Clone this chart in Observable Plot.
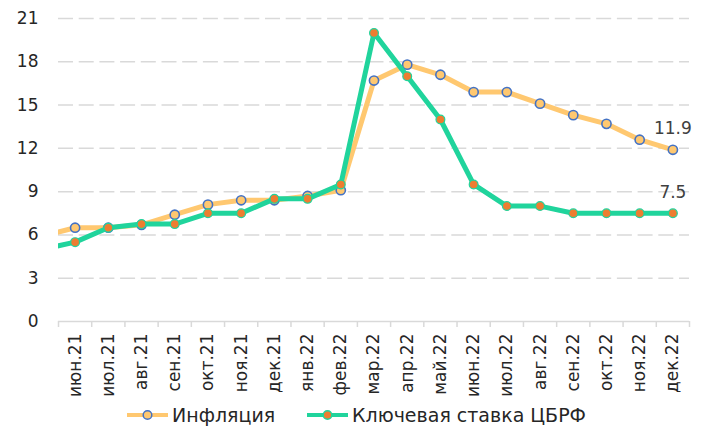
<!DOCTYPE html>
<html>
<head>
<meta charset="utf-8">
<script src="https://cdn.jsdelivr.net/npm/d3@7"></script>
<script src="https://cdn.jsdelivr.net/npm/@observablehq/plot@0.6"></script>
<style>
  html, body { margin: 0; padding: 0; background: #fff; }
  #chart { width: 705px; }
  .legend { position: relative; height: 29px; font-family: "DejaVu Sans", sans-serif; font-size: 19px; color: #262626; }
  .legend .item { position: absolute; top: 0; height: 29px; display: flex; align-items: center; }
  .legend svg { margin-right: 4px; }
</style>
</head>
<body>
<div id="chart"></div>
<script>
// Categories (months)
const months = ["июн.21","июл.21","авг.21","сен.21","окт.21","ноя.21","дек.21","янв.22","фев.22","мар.22","апр.22","май.22","июн.22","июл.22","авг.22","сен.22","окт.22","ноя.22","дек.22"];
// Lead-in month (partially visible at left edge, clipped)
const leadMonth = "май.21";
const leadInflation = 5.9;
const leadKeyRate = 5.0;
// Series
const inflation = [6.5,6.5,6.7,7.4,8.1,8.4,8.4,8.7,9.1,16.7,17.8,17.1,15.9,15.9,15.1,14.3,13.7,12.6,11.9];
const keyRate   = [5.5,6.5,6.75,6.75,7.5,7.5,8.5,8.5,9.5,20,17,14,9.5,8,8,7.5,7.5,7.5,7.5];
// Y tick labels
const yTicks = [0,3,6,9,12,15,18,21];
const seriesNames = ["Инфляция", "Ключевая ставка ЦБРФ"];

const cInfl = "#FFC870", cInflEdge = "#4472C4";
const cKey = "#20D49C", cKeyDot = "#ED7D31";

const inflData = [{i: -1, m: leadMonth, v: leadInflation}, ...inflation.map((v, i) => ({i, m: months[i], v}))];
const keyData  = [{i: -1, m: leadMonth, v: leadKeyRate}, ...keyRate.map((v, i) => ({i, m: months[i], v}))];
const idx = months.map((_, i) => i);
const bounds = d3.range(months.length + 1).map(i => i - 0.5);

const plot = Plot.plot({
  width: 705,
  height: 400,
  marginLeft: 58,
  marginRight: 16,
  marginTop: 18,
  marginBottom: 79,
  style: { fontFamily: "DejaVu Sans, sans-serif", fontSize: "17px", color: "#262626", background: "#fff" },
  x: { type: "linear", domain: [-0.5, months.length - 0.5] },
  y: { domain: [0, 21] },
  marks: [
    Plot.gridY(yTicks.filter(t => t > 0), { stroke: "#d9d9d9", strokeOpacity: 1, strokeWidth: 1.5, strokeDasharray: "15,5.7" }),
    Plot.ruleY([0], { stroke: "#d9d9d9", strokeWidth: 1.5 }),
    Plot.axisY({ ticks: yTicks, tickSize: 0, tickPadding: 20, fontSize: 17, label: null }),
    Plot.axisX({ ticks: bounds, tickFormat: () => "", tickSize: 6, stroke: "#d9d9d9", strokeWidth: 1.5, label: null }),
    Plot.axisX({ ticks: idx, tickFormat: i => months[i], tickSize: 0, tickPadding: 12, tickRotate: -90, fontSize: 17, label: null }),
    Plot.line(inflData, { x: "i", y: "v", stroke: cInfl, strokeWidth: 5, clip: true }),
    Plot.dot(inflData.filter(d => d.i >= 0), { x: "i", y: "v", r: 4.6, fill: cInfl, stroke: cInflEdge, strokeWidth: 1.6 }),
    Plot.line(keyData, { x: "i", y: "v", stroke: cKey, strokeWidth: 5, clip: true }),
    Plot.dot(keyData.filter(d => d.i >= 0), { x: "i", y: "v", r: 4.4, fill: cKeyDot, stroke: cKey, strokeWidth: 1.2 }),
    Plot.text([inflData[inflData.length - 1], keyData[keyData.length - 1]], { x: "i", y: "v", text: d => d.v.toFixed(1), dy: -21, fill: "#404040", fontSize: 17 })
  ]
});
document.getElementById("chart").appendChild(plot);

// Legend
const legend = document.createElement("div");
legend.className = "legend";
const items = [
  { name: seriesNames[0], left: 127, line: cInfl, fill: cInfl, edge: cInflEdge },
  { name: seriesNames[1], left: 307, line: cKey, fill: cKeyDot, edge: cKey }
];
for (const it of items) {
  const d = document.createElement("div");
  d.className = "item";
  d.style.left = it.left + "px";
  d.innerHTML = `<svg width="41" height="14"><line x1="0" y1="7" x2="41" y2="7" stroke="${it.line}" stroke-width="4"/><circle cx="20.5" cy="7" r="4.3" fill="${it.fill}" stroke="${it.edge}" stroke-width="1.5"/></svg><span>${it.name}</span>`;
  legend.appendChild(d);
}
document.getElementById("chart").appendChild(legend);
</script>
</body>
</html>
